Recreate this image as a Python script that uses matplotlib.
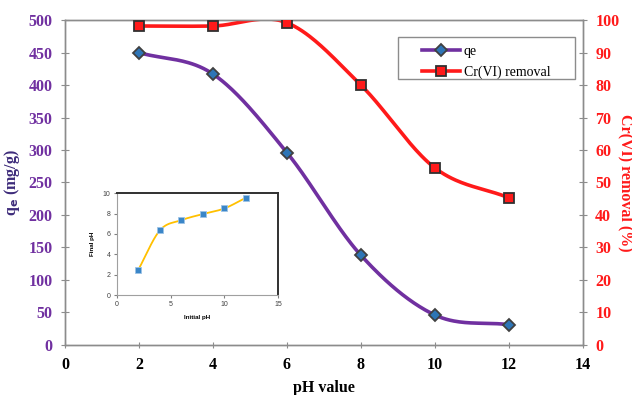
import numpy as np
import matplotlib
matplotlib.use('Agg')
import matplotlib.pyplot as plt
from matplotlib.patches import Rectangle

plt.rcParams['font.family'] = ['Liberation Serif', 'DejaVu Serif']

# data
ph = [2, 4, 6, 8, 10, 12]
qe = [450, 417, 296, 138, 46, 31]
removal = [98.2, 98.2, 99.2, 80, 54.5, 45.3]
initial_ph = [2, 4, 6, 8, 10, 12]
final_ph = [2.5, 6.35, 7.35, 7.95, 8.5, 9.55]


def smooth(x, y, n=40):
    # excel-like smoothed line (catmull-rom through the points)
    x = np.asarray(x, float)
    y = np.asarray(y, float)
    px = np.concatenate([[2 * x[0] - x[1]], x, [2 * x[-1] - x[-2]]])
    py = np.concatenate([[2 * y[0] - y[1]], y, [2 * y[-1] - y[-2]]])
    xs, ys = [], []
    t = np.linspace(0, 1, n)
    for i in range(1, len(px) - 2):
        p0, p1, p2, p3 = (np.array([px[j], py[j]]) for j in range(i - 1, i + 3))
        c1 = p1 + (p2 - p0) / 6
        c2 = p2 - (p3 - p1) / 6
        b = (np.outer((1 - t) ** 3, p1) + np.outer(3 * (1 - t) ** 2 * t, c1)
             + np.outer(3 * (1 - t) * t ** 2, c2) + np.outer(t ** 3, p2))
        xs.append(b[:, 0])
        ys.append(b[:, 1])
    return np.concatenate(xs), np.concatenate(ys)


purple = '#7030A0'
red = '#FF1A1A'
gray = '#8C8C8C'

fig = plt.figure(figsize=(6.32, 3.95), dpi=100)
ax = fig.add_axes([0.103, 0.127, 0.819, 0.822])
ax2 = ax.twinx()

sx, sy = smooth(ph, qe)
ax.plot(sx, sy, color=purple, lw=2.6, zorder=2)
ax.plot(ph, qe, ls='none', marker='D', ms=6.5, mfc='#2E75B6', mec='#404040', mew=1.3, zorder=3)
ax.plot([], [], color=purple, lw=2.6, marker='D', ms=6.5, mfc='#2E75B6', mec='#404040', mew=1.3, label='qe')

rx, ry = smooth(ph, removal)
ax2.plot(rx, ry, color=red, lw=2.6, zorder=2)
ax2.plot(ph, removal, ls='none', marker='s', ms=7, mfc=red, mec='#303030', mew=1.3, zorder=3)
ax.plot([], [], color=red, lw=2.6, marker='s', ms=7, mfc=red, mec='#303030', mew=1.3, label='Cr(VI) removal')

ax.set_xlim(0, 14)
ax.set_ylim(0, 500)
ax2.set_ylim(0, 100)
ax.set_xticks(range(0, 15, 2))
ax.set_yticks(range(0, 501, 50))
ax2.set_yticks(range(0, 101, 10))

for a in (ax, ax2):
    for s in a.spines.values():
        s.set_color(gray)
        s.set_linewidth(1.0)
ax.tick_params(axis='x', direction='inout', length=5, color=gray, labelsize=11.5, pad=6)
ax.tick_params(axis='y', direction='inout', length=6, color=gray, labelsize=11.5, labelcolor=purple, pad=6)
ax2.tick_params(axis='y', direction='inout', length=6, color=gray, labelsize=11.5, labelcolor=red, pad=6)
for lab in ax.get_xticklabels() + ax.get_yticklabels() + ax2.get_yticklabels():
    lab.set_fontweight('bold')

ax.set_xlabel('pH value', fontsize=11.5, fontweight='bold', labelpad=5)
ax.set_ylabel('q$_\\mathbf{e}$ (mg/g)', fontsize=11.5, fontweight='bold', color='#3D2B7A', labelpad=5)
ax2.set_ylabel('Cr(VI) removal (%)', fontsize=11.5, fontweight='bold', color=red, rotation=270, labelpad=10)

# legend box drawn separately so the padding matches the original
leg = ax.legend(loc='upper left', bbox_to_anchor=(0.667, 0.887), bbox_transform=fig.transFigure,
                fontsize=10, frameon=False, handlelength=2.8, borderpad=0,
                labelspacing=0.6, handletextpad=0.25, borderaxespad=0)
fig.patches.append(Rectangle((0.630, 0.800), 0.280, 0.106, transform=fig.transFigure,
                             fill=False, edgecolor=gray, lw=1.0))

# inset: final pH vs initial pH
ins = fig.add_axes([0.185, 0.253, 0.255, 0.258])
ix, iy = smooth(initial_ph, final_ph)
ins.plot(ix, iy, color='#FFC000', lw=1.3, zorder=2)
ins.plot(initial_ph, final_ph, ls='none', marker='s', ms=4, mfc='#3A86C8', mec='#9DC3E6', mew=0.6, zorder=3)
ins.set_xlim(0, 15)
ins.set_ylim(0, 10)
ins.set_xticks([0, 5, 10, 15])
ins.set_yticks(range(0, 11, 2))
ins.tick_params(labelsize=5, length=2.5, color='#808080', labelcolor='#404040', pad=2)
for lab in ins.get_xticklabels() + ins.get_yticklabels():
    lab.set_family(['Liberation Sans', 'DejaVu Sans'])
ins.spines['left'].set_color('#A0A0A0')
ins.spines['bottom'].set_color('#A0A0A0')
ins.spines['top'].set_color('#303030')
ins.spines['right'].set_color('#303030')
ins.spines['top'].set_linewidth(1.4)
ins.spines['right'].set_linewidth(1.4)
ins.set_xlabel('Initial pH', fontsize=4.5, fontweight='bold', family=['Liberation Sans', 'DejaVu Sans'], labelpad=5)
ins.set_ylabel('Final pH', fontsize=4.5, fontweight='bold', family=['Liberation Sans', 'DejaVu Sans'], labelpad=6)

fig.savefig('out.png', dpi=100)
